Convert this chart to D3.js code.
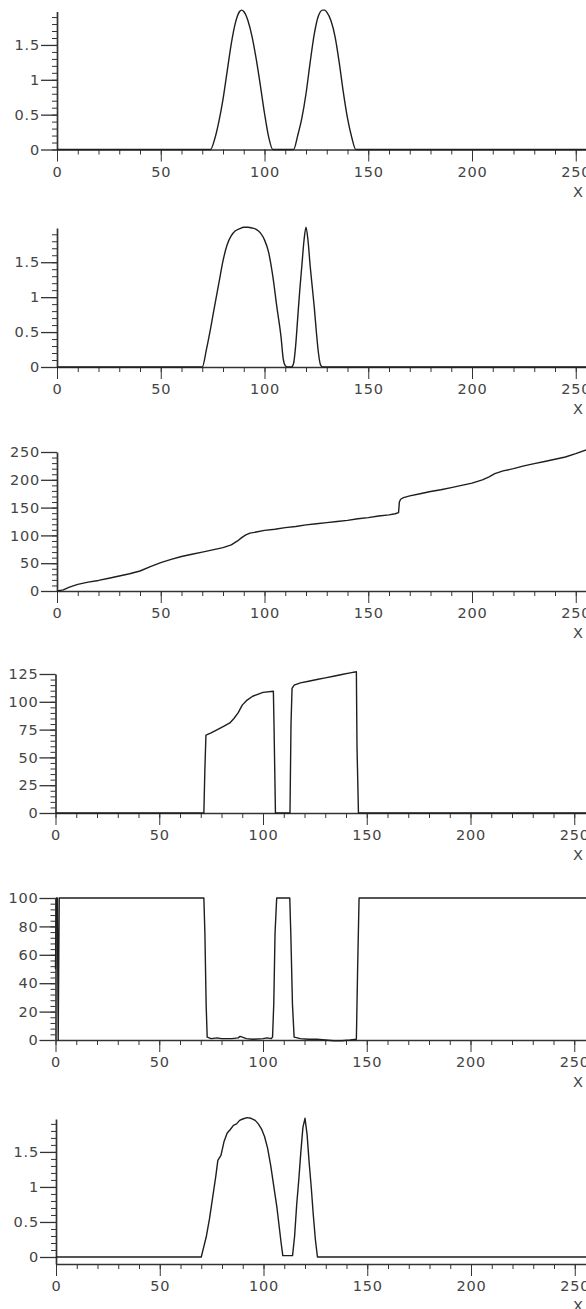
<!DOCTYPE html>
<html>
<head>
<meta charset="utf-8">
<script src="https://cdn.jsdelivr.net/npm/d3@7"></script>
<style>
  html, body { margin: 0; padding: 0; background: #fff; overflow: hidden; }
  svg { display: block; }
  .tick text { font-family: "DejaVu Sans", Verdana, sans-serif; font-size: 14.5px; letter-spacing: 0.8px; fill: #444; }
  .domain, .tick line { stroke: #333; }
</style>
</head>
<body>
<div id="canvas"></div>
<script>
// x axis ticks shared by all panels
const xMajor = [0, 50, 100, 150, 200, 250];
const xLabels = ["0", "50", "100", "150", "200", "250"];

// y tick labels for each panel
const yMajorUnit = [0, 0.5, 1, 1.5];
const yLabelsUnit = ["0", "0.5", "1", "1.5"];
const yMajor3 = [0, 50, 100, 150, 200, 250];
const yMajor4 = [0, 25, 50, 75, 100, 125];
const yMajor5 = [0, 20, 40, 60, 80, 100];

// panel 1: two separate peaks
const series1 = [
  [0, 0], [74, 0], [76, 0.15], [78, 0.4], [80, 0.72], [82, 1.12], [84, 1.52], [86, 1.82],
  [87, 1.92], [88, 1.98], [89, 2.0], [90, 1.98], [91, 1.93], [92, 1.85], [94, 1.62],
  [96, 1.3], [98, 0.92], [100, 0.52], [102, 0.18], [104, 0], [114, 0], [116, 0.2],
  [118, 0.45], [120, 0.8], [122, 1.25], [124, 1.66], [126, 1.92], [128, 2.0], [129, 2.0],
  [130, 1.97], [132, 1.85], [134, 1.62], [136, 1.25], [138, 0.82], [140, 0.45], [142, 0.18],
  [144, 0], [256, 0]
];

// panel 2: wide dome + narrow peak
const series2 = [
  [0, 0], [70, 0], [72, 0.25], [74, 0.55], [76, 0.88], [78, 1.2], [80, 1.52], [82, 1.75],
  [84, 1.88], [86, 1.95], [88, 1.98], [90, 2.0], [92, 2.0], [94, 1.99], [96, 1.97],
  [98, 1.92], [100, 1.82], [102, 1.64], [104, 1.3], [106, 0.85], [108, 0.42], [109, 0.12],
  [110, 0.02], [111, 0], [113, 0], [114, 0.05], [115, 0.3], [116, 0.7], [117, 1.1],
  [118, 1.45], [119, 1.8], [120, 2.0], [121, 1.8], [122, 1.45], [123, 1.15], [124, 0.85],
  [125, 0.5], [126, 0.2], [127, 0.03], [128, 0], [256, 0]
];

// panel 3: rising curve with a step near 165
const series3 = [
  [0, 0], [3, 2], [6, 7], [10, 12], [15, 16], [20, 19], [25, 23], [30, 27], [35, 31],
  [40, 36], [45, 44], [50, 51], [55, 57], [60, 62], [65, 66], [70, 70], [75, 74], [80, 78],
  [84, 83], [87, 90], [89, 96], [91, 101], [93, 104], [96, 106], [100, 109], [105, 111],
  [110, 114], [115, 116], [120, 119], [125, 121], [130, 123], [135, 125], [140, 127],
  [145, 130], [150, 132], [155, 135], [160, 137], [163, 139], [164.6, 141], [165, 160],
  [165.6, 165], [167, 168], [170, 171], [175, 175], [180, 179], [185, 182], [190, 186],
  [195, 190], [200, 194], [205, 200], [208, 205], [211, 211], [215, 216], [220, 220],
  [225, 225], [230, 229], [235, 233], [240, 237], [245, 241], [250, 247], [256, 255]
];

// panel 4: two plateaus
const series4 = [
  [0, 0], [71.5, 0], [72, 40], [72.5, 70], [75, 72], [78, 75], [81, 78], [84, 81], [86, 85],
  [88, 90], [90, 97], [92, 101], [95, 105], [100, 108.5], [105, 109.5], [105.3, 80],
  [106, 0], [113, 0], [113.5, 80], [114, 112], [115, 115], [118, 117], [122, 118.5],
  [126, 120], [130, 121.5], [134, 123], [138, 124.5], [142, 126], [145, 127], [145.3, 60],
  [146, 0], [256, 0]
];

// panel 5: mostly 100 with gaps
const series5 = [
  [0, 50], [0.4, 100], [0.9, 100], [1.3, 0], [1.8, 100], [71.5, 100], [72, 75], [72.6, 25],
  [73.1, 2], [75, 1], [78, 1.5], [80, 1], [85, 1], [88, 1.5], [89, 2.5], [90, 2], [92, 1],
  [95, 0.5], [100, 1], [102, 1.5], [104, 1], [104.6, 2], [105.2, 26], [105.8, 75],
  [106.6, 100], [112.9, 100], [113.4, 75], [114.2, 25], [115, 2], [118, 1], [122, 0.5],
  [126, 0.5], [130, 0], [134, -0.5], [138, -0.5], [142, 0], [145, 0.5], [145.6, 50],
  [146.3, 100], [256, 100]
];

// panel 6: rough version of panel 2
const series6 = [
  [0, 0], [70, 0], [71, 0.12], [72.5, 0.3], [74, 0.55], [75.5, 0.85], [77, 1.15], [78, 1.38],
  [79.5, 1.45], [81, 1.65], [82.5, 1.77], [84, 1.82], [85.5, 1.88], [87, 1.9], [88.5, 1.95],
  [90, 1.97], [92, 1.99], [94, 1.98], [96, 1.95], [97.5, 1.9], [99, 1.83], [100.5, 1.72],
  [102, 1.55], [103.5, 1.3], [105, 1.0], [106.5, 0.7], [107.5, 0.45], [108.5, 0.2],
  [109.3, 0.02], [114, 0.02], [115, 0.3], [116, 0.75], [117, 1.1], [118, 1.5], [119, 1.85],
  [120, 1.98], [121, 1.75], [122, 1.35], [123, 1.0], [124, 0.6], [125, 0.25], [126, 0],
  [256, 0]
];

const width = 586;
const height = 1309;
const pxPerX = 2.075;

const panels = [
  { data: series1, yDomain: [0, 1.98], yMajor: yMajorUnit, yLabels: yLabelsUnit, minorStep: 0.1, minorMax: 1.9, left: 57, base: 149.5, top: 11.5, smooth: true },
  { data: series2, yDomain: [0, 1.99], yMajor: yMajorUnit, yLabels: yLabelsUnit, minorStep: 0.1, minorMax: 1.9, left: 57, base: 367, top: 228, smooth: true },
  { data: series3, yDomain: [0, 250], yMajor: yMajor3, yLabels: yMajor3.map(String), minorStep: 10, minorMax: 250, left: 57, base: 591, top: 452 },
  { data: series4, yDomain: [0, 125], yMajor: yMajor4, yLabels: yMajor4.map(String), minorStep: 5, minorMax: 125, left: 55.5, base: 813, top: 674 },
  { data: series5, yDomain: [0, 100], yMajor: yMajor5, yLabels: yMajor5.map(String), minorStep: 4, minorMax: 100, left: 55.5, base: 1040, top: 898 },
  { data: series6, yDomain: [-0.1, 1.97], yMajor: yMajorUnit, yLabels: yLabelsUnit, minorStep: 0.1, minorMax: 1.9, left: 56, base: 1264, top: 1119 }
];

const svg = d3.select("#canvas").append("svg")
  .attr("width", width)
  .attr("height", height);

svg.append("rect").attr("width", width).attr("height", height).attr("fill", "#fff");

panels.forEach((p) => {
  const x = d3.scaleLinear().domain([0, 256]).range([p.left, p.left + 256 * pxPerX]);
  const y = d3.scaleLinear().domain(p.yDomain).range([p.base, p.top]);
  const g = svg.append("g");

  // x axis: minor ticks then labelled ticks
  g.append("g")
    .attr("transform", `translate(0,${p.base})`)
    .call(d3.axisBottom(x).tickValues(d3.range(0, 251, 10)).tickSize(5).tickSizeOuter(0).tickFormat(""))
    .call((a) => a.select(".domain").remove());
  const xa = g.append("g")
    .attr("transform", `translate(0,${p.base})`)
    .call(d3.axisBottom(x).tickValues(xMajor).tickSize(12).tickPadding(5).tickSizeOuter(0)
      .tickFormat((d, i) => xLabels[i]));
  xa.select(".domain").attr("stroke-width", 1.7);
  xa.append("text")
    .attr("x", 578)
    .attr("y", 47)
    .attr("fill", "#444")
    .style("font-family", '"DejaVu Sans", Verdana, sans-serif')
    .style("font-size", "14.5px")
    .text("X");

  // y axis
  const minor = d3.range(0, p.minorMax + p.minorStep / 2, p.minorStep);
  g.append("g")
    .attr("transform", `translate(${p.left},0)`)
    .call(d3.axisLeft(y).tickValues(minor).tickSize(5).tickSizeOuter(0).tickFormat(""))
    .call((a) => a.select(".domain").remove());
  const ya = g.append("g")
    .attr("transform", `translate(${p.left},0)`)
    .call(d3.axisLeft(y).tickValues(p.yMajor).tickSize(16).tickPadding(1).tickSizeOuter(0)
      .tickFormat((d, i) => p.yLabels[i]));
  ya.select(".domain").attr("stroke-width", 1.7);
  ya.selectAll(".tick line").attr("stroke-width", 1.3);

  const line = d3.line()
    .x((d) => x(d[0]))
    .y((d) => y(d[1]))
    .curve(p.smooth ? d3.curveMonotoneX : d3.curveLinear);

  g.append("path")
    .datum(p.data)
    .attr("fill", "none")
    .attr("stroke", "#1e1e1e")
    .attr("stroke-width", 1.4)
    .attr("stroke-linejoin", "round")
    .attr("d", line);
});
</script>
</body>
</html>
